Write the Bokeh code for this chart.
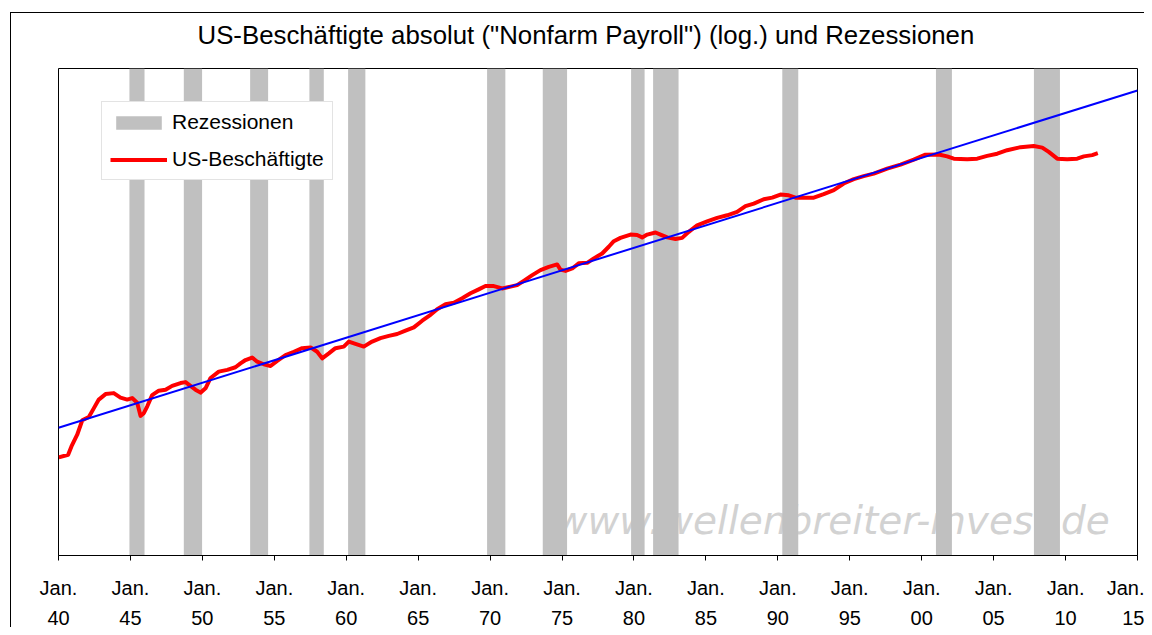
from bokeh.plotting import figure
from bokeh.models import Range1d, FixedTicker, Legend, LegendItem, LinearAxis
from bokeh.embed import file_html
from bokeh.resources import INLINE
from bokeh.core.properties import value

title_text = 'US-Beschäftigte absolut ("Nonfarm Payroll") (log.) und Rezessionen'
watermark = "www.wellenbreiter-invest.de"

tick_years = [1940, 1945, 1950, 1955, 1960, 1965, 1970, 1975, 1980, 1985,
              1990, 1995, 2000, 2005, 2010, 2015]
tick_month = ["Jan."] * 16
tick_yy = ["40", "45", "50", "55", "60", "65", "70", "75", "80", "85",
           "90", "95", "00", "05", "10", "15"]

# recession periods (decimal years, as drawn)
rec_start = [1944.93, 1948.71, 1953.32, 1957.44, 1960.13, 1969.79, 1973.66,
             1979.80, 1981.33, 1990.31, 2000.99, 2007.80]
rec_end = [1945.98, 1949.98, 1954.57, 1958.44, 1961.33, 1971.06, 1975.35,
           1980.74, 1983.10, 1991.42, 2002.10, 2009.61]

# US nonfarm payroll employment (millions)
emp_year = [1940.02, 1940.67, 1940.90, 1941.30, 1941.65, 1942.11, 1942.45, 1942.80, 1943.27, 1943.84,
            1944.31, 1944.78, 1945.12, 1945.47, 1945.70, 1945.93, 1946.17, 1946.51, 1946.97, 1947.44,
            1947.90, 1948.48, 1948.83, 1949.17, 1949.52, 1949.87, 1950.22, 1950.57, 1951.14, 1951.73,
            1952.30, 1952.65, 1953.00, 1953.46, 1953.81, 1954.27, 1954.74, 1955.20, 1955.78, 1956.36,
            1956.94, 1957.52, 1957.98, 1958.33, 1958.79, 1959.25, 1959.83, 1960.18, 1960.64, 1961.22,
            1961.80, 1962.38, 1962.96, 1963.54, 1964.12, 1964.70, 1965.28, 1965.86, 1966.32, 1966.90,
            1967.48, 1968.06, 1968.64, 1969.21, 1969.68, 1970.26, 1970.84, 1971.42, 1971.88, 1972.34,
            1972.93, 1973.50, 1974.08, 1974.66, 1974.89, 1975.24, 1975.71, 1976.16, 1976.75, 1977.21,
            1977.79, 1978.25, 1978.60, 1979.06, 1979.76, 1980.22, 1980.57, 1980.92, 1981.50, 1981.84,
            1982.31, 1982.89, 1983.35, 1983.81, 1984.39, 1985.09, 1985.78, 1986.48, 1987.17, 1987.75,
            1988.33, 1989.02, 1989.61, 1990.18, 1990.76, 1991.23, 1991.80, 1992.50, 1993.19, 1993.89,
            1994.58, 1995.28, 1995.97, 1996.67, 1997.60, 1998.53, 1999.45, 2000.26, 2001.19, 2001.77,
            2002.23, 2003.16, 2003.86, 2004.55, 2005.25, 2005.94, 2006.87, 2007.79, 2008.38, 2008.83,
            2009.42, 2010.11, 2010.81, 2011.27, 2011.85, 2012.24]
emp_val = [31.8, 32.2, 33.5, 35.4, 37.9, 38.5, 40.1, 41.8, 42.9, 43.1,
           42.2, 41.8, 42.1, 41.2, 38.7, 39.2, 40.5, 42.7, 43.6, 43.8,
           44.6, 45.2, 45.4, 44.6, 43.8, 43.2, 44.1, 46.3, 47.7, 48.1,
           48.7, 49.6, 50.4, 51.0, 50.0, 49.4, 49.0, 50.2, 51.6, 52.4,
           53.3, 53.5, 52.4, 50.8, 52.0, 53.3, 53.7, 55.0, 54.4, 53.7,
           55.0, 55.9, 56.5, 57.0, 57.9, 58.8, 60.7, 62.4, 64.1, 65.6,
           66.1, 67.5, 69.1, 70.4, 71.5, 71.5, 70.7, 71.3, 71.8, 73.3,
           75.3, 77.1, 78.3, 79.2, 77.3, 76.8, 77.7, 79.6, 79.8, 81.5,
           83.4, 86.1, 88.4, 89.8, 91.2, 91.0, 90.0, 91.2, 92.1, 91.2,
           90.0, 89.3, 89.8, 92.4, 95.3, 97.1, 98.7, 99.9, 101.5, 104.3,
           105.6, 107.8, 108.6, 110.2, 109.8, 108.6, 108.6, 108.6, 110.4, 112.5,
           116.1, 118.5, 120.2, 121.7, 124.6, 127.0, 130.0, 133.1, 133.2, 132.0,
           130.6, 130.2, 130.6, 132.3, 133.7, 135.9, 137.9, 138.6, 137.6, 134.8,
           130.6, 130.2, 130.6, 132.0, 132.8, 134.0]

# exponential trend line (straight on log scale)
trend_year = [1940, 2015]
trend_val = [36.6, 180.3]

x_lo, x_hi = 1940, 2015
y_lo, y_hi = 20, 200

p = figure(width=1144, height=627,
           x_range=Range1d(x_lo, x_hi), y_range=Range1d(y_lo, y_hi),
           y_axis_type="log", output_backend="svg", toolbar_location=None,
           min_border_left=58, min_border_right=7,
           min_border_top=68, min_border_bottom=71)

p.styles = {
    "background-image": "linear-gradient(#000, #000), linear-gradient(#000, #000)",
    "background-size": "1px 100%, 100% 1px",
    "background-position": "10px 12px, 10px 12px",
    "background-repeat": "no-repeat",
}
p.border_fill_color = None
p.background_fill_color = "white"
p.outline_line_color = "black"
p.outline_line_width = 1

p.title.text = title_text
p.title.text_font = "Liberation Sans"
p.title.text_font_size = "25.8px"
p.title.text_font_style = "normal"
p.title.text_color = "black"
p.title.align = "left"
p.title.vertical_align = "top"
p.title.offset = 139
p.title.standoff = 35

p.grid.visible = False
p.yaxis.visible = False

label_font = "Liberation Sans"

ax = p.xaxis[0]
ax.ticker = FixedTicker(ticks=tick_years)
ax.major_label_overrides = {y: l for y, l in zip(tick_years, tick_month)}
ax.major_label_text_font = label_font
ax.major_label_text_font_size = "20px"
ax.major_label_text_color = "black"
ax.major_label_text_line_height = 1.0
ax.major_label_standoff = 16
ax.major_tick_in = 0
ax.major_tick_out = 5
ax.major_tick_line_color = "black"
ax.minor_tick_line_color = None
ax.axis_line_color = "black"

ax2 = LinearAxis(ticker=FixedTicker(ticks=tick_years),
                 major_label_overrides={y: l for y, l in zip(tick_years, tick_yy)},
                 major_label_text_font=label_font,
                 major_label_text_font_size="20px",
                 major_label_text_color="black",
                 major_label_text_line_height=1.0,
                 major_label_standoff=9,
                 major_tick_in=0, major_tick_out=0,
                 major_tick_line_color=None, minor_tick_line_color=None,
                 axis_line_color=None)
p.add_layout(ax2, "below")

# watermark (underneath the recession bands)
p.text(x=[1974.55], y=[23.6], text=[watermark],
       text_font=value("DejaVu Sans"), text_font_style="italic",
       text_font_size="39px", text_color="#D2D2D2",
       text_baseline="alphabetic", text_align="left")

r_rec = p.quad(left=rec_start, right=rec_end, bottom=y_lo, top=y_hi,
               fill_color="#C0C0C0", line_color=None)
r_emp = p.line(emp_year, emp_val, line_color="#FF0000", line_width=4,
               line_join="round")
p.line(trend_year, trend_val, line_color="#0000FF", line_width=2)

legend = Legend(items=[LegendItem(label="Rezessionen", renderers=[r_rec]),
                       LegendItem(label="US-Beschäftigte", renderers=[r_emp])],
                location=(43, 375), glyph_width=57, glyph_height=17,
                label_standoff=5, padding=8, spacing=13, margin=0,
                label_text_font=label_font, label_text_font_size="21px",
                label_text_color="black",
                border_line_color="#C8C8C8", background_fill_color="white",
                background_fill_alpha=1)
p.add_layout(legend)

open("out.html", "w").write(file_html(p, INLINE))
